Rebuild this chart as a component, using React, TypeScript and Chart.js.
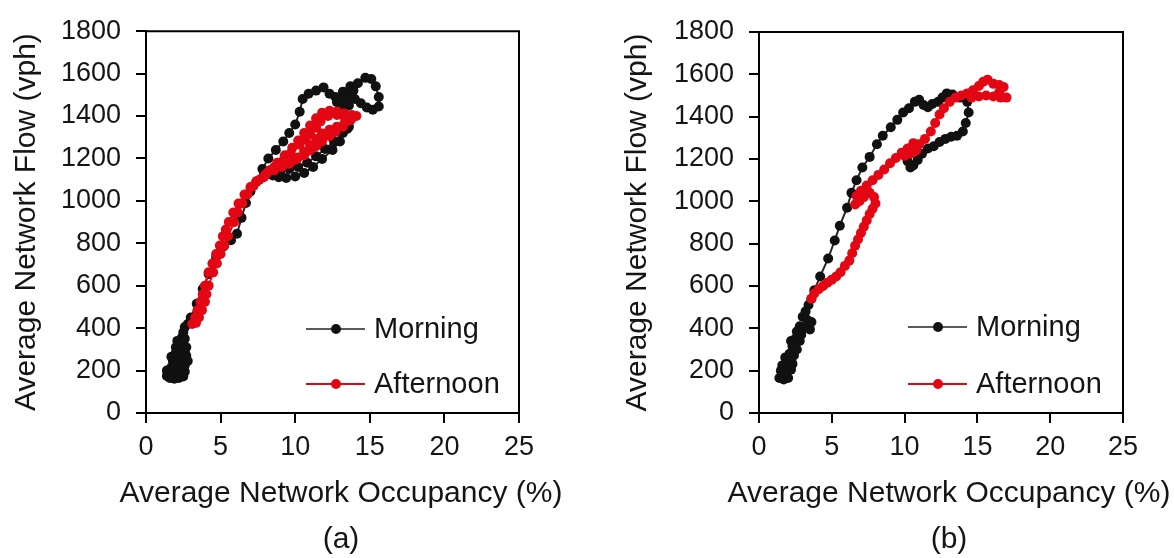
import React, { useEffect, useRef } from 'react';
import { Chart, registerables } from 'chart.js';

Chart.register(...registerables);

const FONT = "'Liberation Sans', Arial, sans-serif";
const TEXT = '#151515';

const X_TICKS = [0, 5, 10, 15, 20, 25];
const Y_TICKS = [0, 200, 400, 600, 800, 1000, 1200, 1400, 1600, 1800];
const SERIES_LABELS = ['Morning', 'Afternoon'];
const PANEL_LABELS = ['(a)', '(b)'];
const X_TITLE = 'Average Network Occupancy (%)';
const Y_TITLE = 'Average Network Flow (vph)';

// Panel (a) — [occupancy %, flow vph]
const morningA: [number, number][] = [
  [1.4, 175], [1.6, 165], [1.9, 162], [2.2, 165], [2.5, 172], [2.6, 195], [2.4, 205], [2.1, 195],
  [1.8, 190], [1.5, 185], [1.4, 200], [1.7, 215], [2.0, 225], [2.3, 230], [2.6, 225], [2.8, 245],
  [2.7, 270], [2.4, 260], [2.1, 255], [1.8, 245], [1.7, 265], [2.0, 285], [2.3, 295], [2.6, 290],
  [2.7, 310], [2.5, 325], [2.2, 320], [2.0, 310], [2.1, 340], [2.4, 355], [2.6, 350], [2.5, 380],
  [2.6, 405], [2.8, 420], [3.0, 450], [3.4, 515], [3.8, 585], [4.2, 655], [4.7, 735], [5.2, 785],
  [5.7, 815], [6.1, 845], [6.4, 920], [6.7, 990], [7.0, 1045], [7.4, 1090], [7.8, 1150], [8.2, 1200],
  [8.7, 1240], [9.2, 1280], [9.6, 1320], [10.0, 1360], [10.3, 1420], [10.5, 1480], [10.9, 1505],
  [11.4, 1520], [11.9, 1535], [12.3, 1505], [12.7, 1490], [13.2, 1515], [13.7, 1540], [14.2, 1555],
  [14.7, 1580], [15.1, 1575], [15.4, 1540], [15.6, 1490], [15.6, 1445], [15.2, 1430], [14.8, 1440],
  [14.4, 1460], [14.0, 1480], [13.6, 1450], [13.1, 1440], [12.8, 1465], [13.2, 1480], [13.6, 1500],
  [13.9, 1520], [13.5, 1460], [13.5, 1400], [13.6, 1350], [13.5, 1340], [13.0, 1280], [12.5, 1240],
  [11.8, 1198], [11.2, 1160], [10.6, 1132], [10.0, 1115], [9.4, 1108], [8.9, 1112], [8.5, 1120],
  [9.0, 1140], [9.6, 1150], [10.2, 1160], [10.8, 1180], [11.4, 1210], [12.0, 1245], [12.6, 1280],
  [13.2, 1320],
];

const afternoonA: [number, number][] = [
  [3.1, 420], [3.3, 450], [3.45, 485], [3.65, 524], [3.8, 560], [3.95, 600], [4.2, 663], [4.45, 705],
  [4.7, 750], [4.95, 790], [5.15, 833], [5.35, 865], [5.55, 900], [5.85, 945], [6.2, 988], [6.6, 1030],
  [7.0, 1065], [7.4, 1092], [7.9, 1112], [8.3, 1145], [8.8, 1180], [9.3, 1215], [9.8, 1250],
  [10.2, 1285], [10.6, 1320], [11.0, 1355], [11.4, 1390], [11.8, 1415], [12.3, 1425], [12.8, 1422],
  [13.3, 1412], [13.8, 1405], [14.1, 1400], [13.7, 1380], [13.2, 1350], [12.7, 1325], [12.3, 1305],
  [11.8, 1280], [11.4, 1258], [11.0, 1238], [10.6, 1215], [10.1, 1196], [9.6, 1175], [9.1, 1160],
  [8.6, 1145], [8.1, 1130], [8.6, 1160], [9.2, 1190], [9.7, 1225], [10.3, 1265], [10.7, 1290],
  [11.0, 1315], [11.4, 1345], [11.7, 1375], [12.2, 1400], [12.8, 1405], [13.3, 1395], [13.8, 1390],
  [13.3, 1365], [12.8, 1350], [12.3, 1335], [11.8, 1318], [11.4, 1292], [11.0, 1262], [10.6, 1232],
  [10.2, 1205], [9.8, 1188], [9.2, 1168], [8.6, 1148], [8.0, 1125], [7.6, 1100], [7.2, 1070],
  [6.8, 1030], [6.45, 988], [6.15, 945], [5.9, 900], [5.5, 833], [5.25, 790], [5.0, 750], [4.75, 705],
  [4.5, 663], [4.2, 600], [4.05, 560], [3.95, 524], [3.75, 485], [3.55, 450], [3.35, 425],
];

// Panel (b)
const morningB: [number, number][] = [
  [1.4, 165], [1.7, 158], [2.0, 165], [1.8, 185], [1.5, 200], [1.6, 225], [1.9, 215], [2.2, 205],
  [2.3, 232], [2.0, 245], [1.8, 262], [2.1, 280], [2.4, 272], [2.6, 300], [2.3, 315], [2.2, 340],
  [2.5, 352], [2.8, 340], [2.9, 370], [2.6, 385], [2.8, 410], [3.1, 400], [3.5, 395], [3.6, 430],
  [3.3, 440], [3.0, 455], [3.2, 480], [3.4, 510], [3.6, 540], [3.8, 580], [4.2, 645], [4.75, 730],
  [5.2, 815], [5.55, 885], [6.05, 970], [6.35, 1040], [6.7, 1100], [7.1, 1160], [7.6, 1210],
  [8.1, 1270], [8.5, 1310], [9.05, 1350], [9.5, 1385], [9.9, 1420], [10.3, 1440], [10.7, 1470],
  [11.0, 1480], [11.3, 1455], [11.6, 1445], [11.9, 1460], [12.3, 1470], [12.6, 1490], [12.9, 1510],
  [13.3, 1505], [13.8, 1490], [14.3, 1470], [14.4, 1420], [14.2, 1370], [14.0, 1330], [13.6, 1310],
  [13.2, 1305], [12.8, 1295], [12.4, 1280], [12.0, 1260], [11.6, 1250], [11.2, 1225], [10.9, 1195],
  [10.6, 1170], [10.4, 1160], [10.2, 1190], [10.1, 1220],
];

const afternoonB: [number, number][] = [
  [3.6, 540], [3.8, 565], [4.1, 585], [4.4, 600], [4.7, 615], [5.0, 630], [5.3, 645], [5.6, 665],
  [5.9, 695], [6.2, 720], [6.4, 755], [6.6, 790], [6.8, 820], [7.0, 850], [7.2, 880], [7.4, 910],
  [7.6, 940], [7.8, 965], [8.0, 990], [7.9, 1020], [7.6, 1040], [7.2, 1020], [6.9, 1000], [6.6, 985],
  [6.7, 1025], [7.0, 1050], [7.4, 1075], [7.8, 1100], [8.2, 1125], [8.6, 1150], [9.0, 1180],
  [9.4, 1205], [9.8, 1230], [10.2, 1250], [10.0, 1215], [10.4, 1225], [10.8, 1240], [10.6, 1275],
  [11.0, 1270], [11.4, 1295], [11.8, 1330], [12.1, 1370], [12.4, 1410], [12.7, 1440], [13.1, 1470],
  [13.5, 1490], [13.9, 1500], [14.3, 1510], [14.7, 1525], [15.1, 1545], [15.4, 1565], [15.7, 1575],
  [16.1, 1555], [16.5, 1550], [16.8, 1540], [16.5, 1515], [17.0, 1490], [16.6, 1490], [16.1, 1495],
  [15.6, 1500], [15.1, 1495], [14.6, 1490],
];

const PANELS = [
  { morning: morningA, afternoon: afternoonA, label: PANEL_LABELS[0] },
  { morning: morningB, afternoon: afternoonB, label: PANEL_LABELS[1] },
];

// layout per panel (pixels)
const LAYOUTS = [
  { left: 0, width: 682, top: 25, axisW: 146, rightW: 163, yTitlePad: 9, legendX: 160, legendRows: [-84, -29] },
  { left: 610, width: 678, top: 32, axisW: 149, rightW: 165, yTitlePad: 10, legendX: 149, legendRows: [-86, -29] },
];

const MORNING_COLOR = '#111111';
const AFTERNOON_COLOR = '#e30613';
const LEGEND_LINE_COLORS = ['#5a5a5a', AFTERNOON_COLOR];
const LEGEND_DOT_COLORS = ['#111111', AFTERNOON_COLOR];

const frameLegendPlugin = {
  id: 'frameLegend',
  afterDraw(chart: any, _args: any, opts: any) {
    const { ctx, chartArea: a } = chart;
    ctx.save();
    ctx.strokeStyle = '#000';
    ctx.lineWidth = 2;
    ctx.beginPath();
    ctx.moveTo(a.left - 1, a.top);
    ctx.lineTo(a.right, a.top);
    ctx.lineTo(a.right, a.bottom + 1);
    ctx.stroke();

    const x0 = a.left + opts.x;
    const lineLen = 59;
    chart.data.datasets.forEach((ds: any, i: number) => {
      const y = a.bottom + opts.rows[i];
      ctx.strokeStyle = LEGEND_LINE_COLORS[i];
      ctx.lineWidth = 2;
      ctx.beginPath();
      ctx.moveTo(x0, y);
      ctx.lineTo(x0 + lineLen, y);
      ctx.stroke();
      ctx.fillStyle = LEGEND_DOT_COLORS[i];
      ctx.beginPath();
      ctx.arc(x0 + 30, y, 5, 0, Math.PI * 2);
      ctx.fill();
      ctx.fillStyle = TEXT;
      ctx.font = `29px ${FONT}`;
      ctx.textAlign = 'left';
      ctx.textBaseline = 'middle';
      ctx.fillText(ds.label, x0 + lineLen + 9, y + 1);
    });
    ctx.restore();
  },
};

function makeConfig(p: typeof PANELS[number], l: typeof LAYOUTS[number]): any {
  const toPts = (arr: [number, number][]) => arr.map(([x, y]) => ({ x, y }));
  const common = {
    showLine: true,
    borderWidth: 2,
    pointBorderWidth: 0,
    pointRadius: 5,
    tension: 0,
  };
  return {
    type: 'scatter',
    data: {
      datasets: [
        {
          ...common,
          label: SERIES_LABELS[0],
          data: toPts(p.morning),
          borderColor: '#262626',
          backgroundColor: MORNING_COLOR,
          pointBackgroundColor: MORNING_COLOR,
          order: 2,
        },
        {
          ...common,
          label: SERIES_LABELS[1],
          data: toPts(p.afternoon),
          borderColor: AFTERNOON_COLOR,
          backgroundColor: AFTERNOON_COLOR,
          pointBackgroundColor: AFTERNOON_COLOR,
          order: 1,
        },
      ],
    },
    options: {
      responsive: false,
      animation: false,
      events: [],
      layout: { padding: { left: 0, top: l.top, right: 0, bottom: 0 } },
      plugins: {
        legend: { display: false },
        tooltip: { enabled: false },
        title: {
          display: true,
          text: p.label,
          position: 'bottom',
          color: TEXT,
          font: { family: FONT, size: 30, weight: 'normal' },
          padding: { top: 0, bottom: 0 },
        },
        subtitle: {
          display: true,
          text: X_TITLE,
          position: 'bottom',
          color: TEXT,
          font: { family: FONT, size: 30, weight: 'normal' },
          padding: { top: 0, bottom: 10 },
        },
        frameLegend: { x: l.legendX, rows: l.legendRows },
      },
      scales: {
        x: {
          type: 'linear',
          min: 0,
          max: 25,
          afterBuildTicks: (s: any) => { s.ticks = X_TICKS.map((v) => ({ value: v })); },
          afterFit: (s: any) => { s.height = 63; },
          ticks: { color: TEXT, font: { family: FONT, size: 27 }, padding: 8, callback: (v: any) => String(v) },
          grid: { drawOnChartArea: false, drawTicks: true, tickLength: 10, color: '#000', lineWidth: 2 },
          border: { display: true, color: '#000', width: 2 },
          title: { display: false },
        },
        y: {
          type: 'linear',
          min: 0,
          max: 1800,
          afterBuildTicks: (s: any) => { s.ticks = Y_TICKS.map((v) => ({ value: v })); },
          afterFit: (s: any) => { s.width = l.axisW; },
          ticks: { color: TEXT, font: { family: FONT, size: 27 }, padding: 15, callback: (v: any) => String(v) },
          grid: { drawOnChartArea: false, drawTicks: true, tickLength: 10, color: '#000', lineWidth: 2 },
          border: { display: true, color: '#000', width: 2 },
          title: {
            display: true,
            text: Y_TITLE,
            color: TEXT,
            font: { family: FONT, size: 30 },
            padding: { top: l.yTitlePad, bottom: 0 },
          },
        },
        yRightSpace: {
          type: 'linear',
          position: 'right',
          display: true,
          afterFit: (s: any) => { s.width = l.rightW; },
          ticks: { display: false },
          grid: { display: false, drawTicks: false },
          border: { display: false },
          title: { display: false },
        },
      },
    },
    plugins: [frameLegendPlugin],
  };
}

function Panel({ index }: { index: number }) {
  const ref = useRef<HTMLCanvasElement | null>(null);
  const l = LAYOUTS[index];
  useEffect(() => {
    if (!ref.current) return;
    const chart = new Chart(ref.current, makeConfig(PANELS[index], l));
    return () => chart.destroy();
  }, [index]);
  return (
    <canvas
      ref={ref}
      width={l.width}
      height={558}
      style={{ position: 'absolute', left: l.left, top: 0, width: l.width, height: 558 }}
    />
  );
}

export default function App() {
  return (
    <div
      style={{
        position: 'absolute',
        left: 0,
        top: 0,
        width: 1174,
        height: 558,
        overflow: 'hidden',
        background: '#fff',
      }}
    >
      <Panel index={0} />
      <Panel index={1} />
    </div>
  );
}
